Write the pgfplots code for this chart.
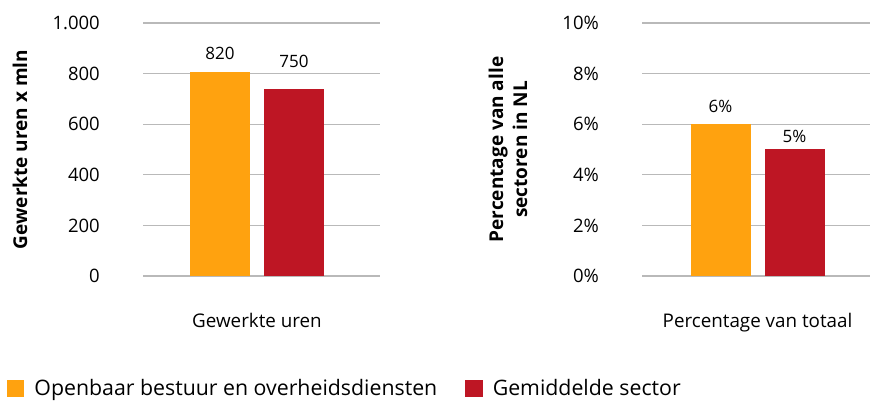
\documentclass[border=0pt]{standalone}
\usepackage{pgfplots}
\pgfplotsset{compat=1.18}
\usepackage{fontspec}
\setmainfont{Open Sans}
\definecolor{cOrange}{RGB}{255,162,15}
\definecolor{cRed}{RGB}{190,22,36}
\definecolor{cGrid}{RGB}{185,185,185}
\newcommand{\fs}[2][0]{\fontsize{#2bp}{24bp}\selectfont}
\pgfplotsset{
  myaxis/.style={
    scale only axis,
    anchor=south west,
    ymin=0,
    axis line style={draw=none},
    major tick length=0pt,
    ymajorgrids,
    major grid style={cGrid, line width=1.3bp},
    xtick={0},
    /pgf/number format/assume math mode=true,
    yticklabel style={font=\fs{18.5}, anchor=east, inner sep=0pt, xshift=-43bp},
    xticklabel style={font=\fs{18.8}, anchor=base, inner sep=0pt, yshift=-51bp},
    ylabel style={font=\fs{19}\bfseries, anchor=center, align=center},
    clip=false,
  },
  mybar/.style={ybar, bar width=60bp, bar shift=0pt, draw=none, fill=#1},
  mylab/.style={only marks, mark=none, nodes near coords, point meta=explicit symbolic,
    every node near coord/.append style={font=\fs{17}, anchor=base, inner sep=0pt}},
}
\begin{document}
\begin{tikzpicture}[x=1bp,y=1bp]
\path[use as bounding box] (0,0) rectangle (870,403);
\begin{axis}[myaxis,
  at={(143bp,127bp)},
  width=237bp, height=253bp,
  xmin=-114, xmax=123,
  ymax=1000, ytick={0,200,400,600,800,1000},
  /pgf/number format/1000 sep={.},
  xticklabels={Gewerkte uren},
  ylabel={Gewerkte uren x mln},
  ylabel style={at={(axis description cs:-0.519,0.5)}},
  legend style={draw=none, fill=none, inner sep=0pt, outer sep=0pt,
    at={(axis description cs:-0.574,-0.445)}, anchor=west,
    legend columns=2, font=\fs{21.3},
    /tikz/every even column/.append style={column sep=28bp},
    nodes={inner sep=0pt}},
  legend image code/.code={\fill[#1] (0bp,-8.5bp) rectangle (17.5bp,8.5bp);},
  legend cell align=left,
]
\addplot[mybar=cOrange] coordinates {(-37,806)};
\addlegendentry{\hspace{10bp}Openbaar bestuur en overheidsdiensten}
\addplot[mybar=cRed] coordinates {(37,739)};
\addlegendentry{\hspace{10bp}Gemiddelde sector}
\addplot[mylab, forget plot] coordinates {(-37,854)[820] (37,826)[750]};
\end{axis}
\begin{axis}[myaxis,
  at={(642bp,127bp)},
  width=228bp, height=253bp,
  xmin=-115.5, xmax=112.5,
  ymax=10, ytick={0,2,4,6,8,10},
  yticklabel={\pgfmathprintnumber{\tick}\%},
  xticklabels={Percentage van totaal},
  ylabel={Percentage van alle\\sectoren in NL},
  ylabel style={at={(axis description cs:-0.588,0.5)}},
]
\addplot[mybar=cOrange] coordinates {(-37,6)};
\addplot[mybar=cRed] coordinates {(37,5)};
\addplot[mylab] coordinates {(-37,6.48)[6\%] (37,5.26)[5\%]};
\end{axis}
\end{tikzpicture}
\end{document}
